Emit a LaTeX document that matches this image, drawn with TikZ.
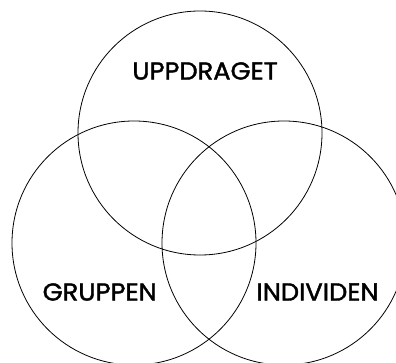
\documentclass[tikz,border=0pt]{standalone}
\usepackage{fontspec}
\setmainfont{Poppins}[FakeBold=1.6]
\begin{document}
\begin{tikzpicture}[x=1pt,y=-1pt,
  ring/.style={draw=black,line width=0.8pt,circle,minimum size=244pt,inner sep=0pt},
  lbl/.style={inner sep=0pt,xscale=1.05,font=\fontsize{24.5}{24.5}\selectfont}]
\useasboundingbox (0,0) rectangle (396,363);
\begin{scope}
\clip (0,0) rectangle (396,363);
\node[ring] (top) at (200,133) {};
\node[ring] (left) at (134,243) {};
\node[ring] (right) at (284,243) {};
\end{scope}
\node[lbl] (t1) at (205,71) {UPPDRAGET};
\node[lbl] (t2) at (99.7,292) {GRUPPEN};
\node[lbl] (t3) at (317.5,292) {INDIVIDEN};
\end{tikzpicture}
\end{document}
